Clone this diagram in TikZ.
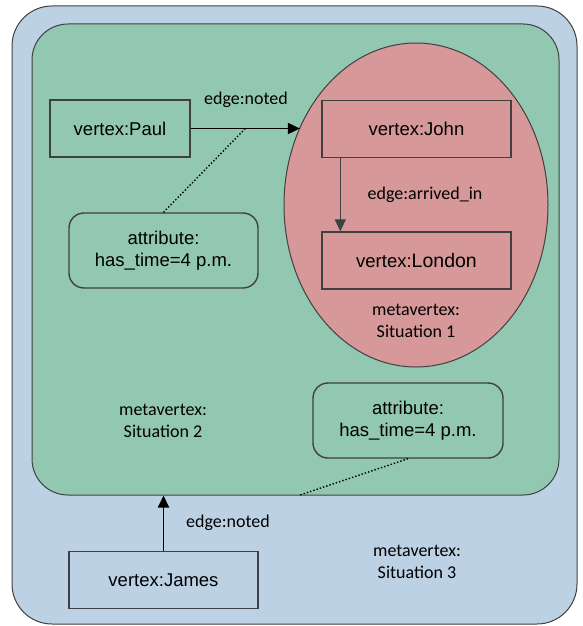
\documentclass[tikz,border=0pt]{standalone}
\usepackage{fontspec}
\setmainfont{Liberation Sans}
\newfontfamily\calib{Carlito}
\usetikzlibrary{shapes.geometric,arrows.meta,calc}
\definecolor{bluefill}{RGB}{188,210,228}
\definecolor{greenfill}{RGB}{146,200,178}
\definecolor{redfill}{RGB}{214,152,152}
\definecolor{edgegray}{RGB}{64,64,64}
\begin{document}
\begin{tikzpicture}[x=1pt,y=-1pt,
  every node/.style={font=\fontsize{18.5}{22}\selectfont},
  vbox/.style={draw=edgegray,line width=1.4pt,rectangle,inner sep=0pt,minimum width=#1,minimum height=57},
  abox/.style={draw=edgegray,line width=1.4pt,rectangle,rounded corners=15,inner sep=0pt,minimum width=#1,minimum height=75,align=center,font=\fontsize{18.5}{21.5}\selectfont},
  lbl/.style={font=\calib\fontsize{18}{22}\selectfont,align=center,inner sep=0pt},
  arr/.style={-{Triangle[length=12pt,width=11pt]},line width=1.8pt},
  dots/.style={dotted,line width=1.4pt}]
\useasboundingbox (0,0) rectangle (582,626);
% containers
\node[draw=edgegray,line width=1pt,fill=bluefill,rounded corners=40,minimum width=565,minimum height=618,inner sep=0pt] (sit3) at (294.5,315) {};
\node[draw=edgegray,line width=1pt,fill=greenfill,rounded corners=36,minimum width=527,minimum height=471,inner sep=0pt] (sit2) at (295.5,259.5) {};
\node[draw=edgegray,line width=1pt,fill=redfill,ellipse,minimum width=264,minimum height=324,inner sep=0pt] (sit1) at (416,205) {};
% vertices
\node[vbox=140] (paul) at (120,128.5) {vertex:Paul};
\node[vbox=189] (john) at (416.5,129) {vertex:John};
\node[vbox=189] (london) at (416.5,260.5) {vertex:{\fontsize{19.5}{22}\selectfont London}};
\node[vbox=189] (james) at (163.5,580) {vertex:James};
% attributes
\node[abox=189] (attr1) at (163.5,250.5) {attribute:\\has\_time=4 p.m.};
\node[abox=190] (attr2) at (408,420.5) {attribute:\\has\_time=4 p.m.};
% labels
\node[lbl] (l1) at (246,100) {edge:noted};
\node[lbl] (l2) at (425,195) {edge:arrived\_in};
\node[lbl] (l3) at (416,321) {metavertex:\\Situation 1};
\node[lbl] (l4) at (163,421) {metavertex:\\Situation 2};
\node[lbl] (l5) at (417,562) {metavertex:\\Situation 3};
\node[lbl] (l6) at (228,523) {edge:noted};
% connectors
\draw[arr,black] (paul.east) -- (paul.east -| sit1.146.7) coordinate[pos=0.5] (mid1);
\draw[dots] (attr1.north) -- (mid1);
\draw[arr,edgegray,line width=1.3pt] ([xshift=19pt]john.south west) -- ([xshift=19pt]london.north west);
\draw[arr,black] (james.north) -- (james.north |- sit2.south);
\coordinate (gb) at (300,495);
\draw[dots] (attr2.south) -- (gb);
\end{tikzpicture}
\end{document}
